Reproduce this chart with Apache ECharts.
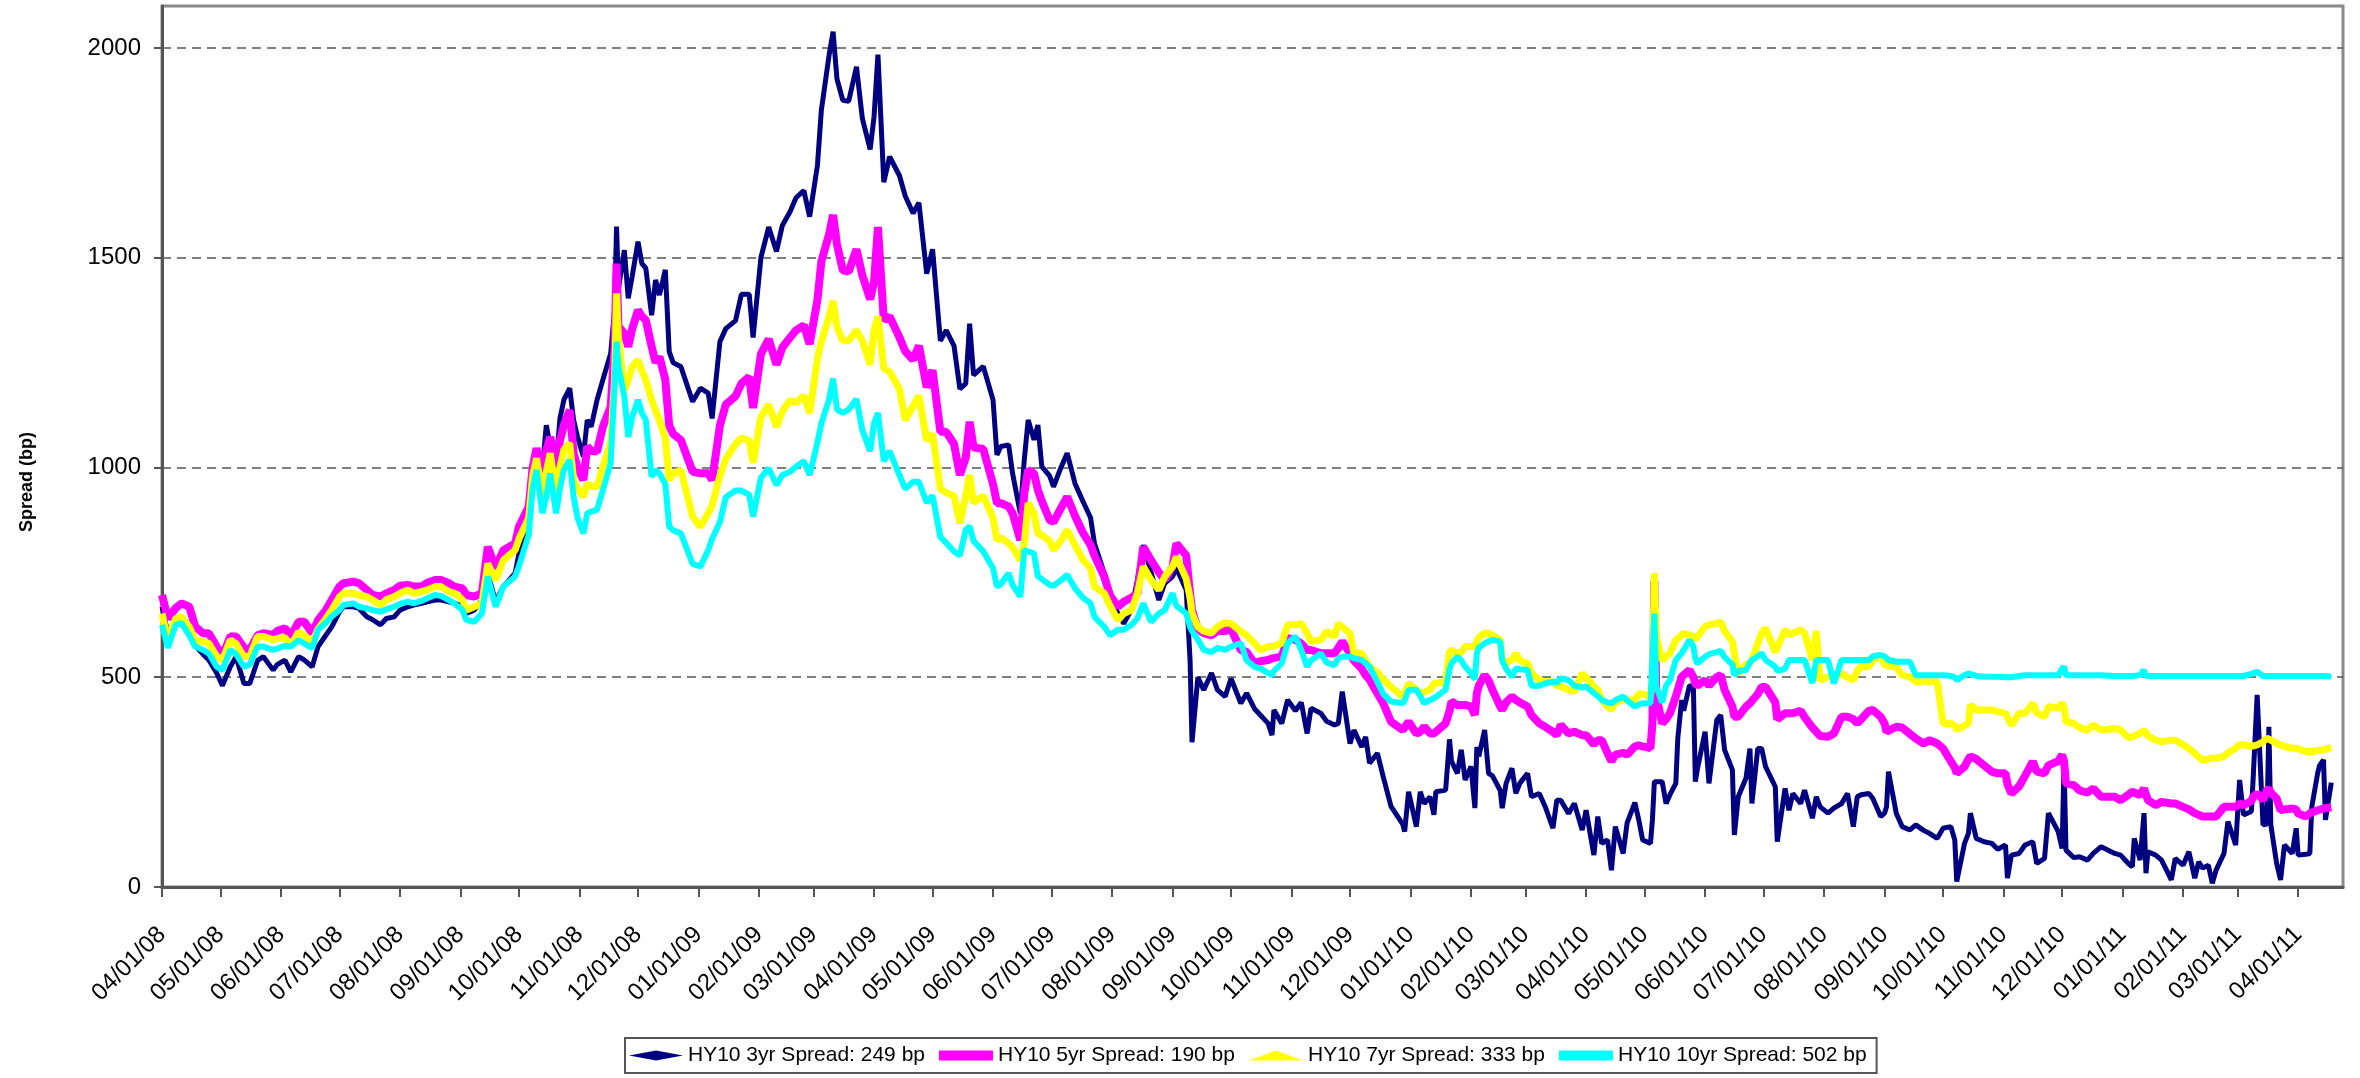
<!DOCTYPE html>
<html><head><meta charset="utf-8">
<script src="https://cdn.jsdelivr.net/npm/echarts@6/dist/echarts.min.js"></script>
<style>html,body{margin:0;padding:0;background:#fff}#chart{width:2360px;height:1078px}</style>
</head><body><div id="chart"></div>
<script>
const axisStart = '2008-04-01';
const axisEnd = '2011-04-24';
const yTicks = [0, 500, 1000, 1500, 2000];
const seriesNames = ['HY10 3yr Spread: 249 bp', 'HY10 5yr Spread: 190 bp', 'HY10 7yr Spread: 333 bp', 'HY10 10yr Spread: 502 bp'];
const seriesColors = ['#000080', '#FF00FF', '#FFFF00', '#00FFFF'];

const dates = [
'2008-04-01','2008-04-04','2008-04-08','2008-04-11','2008-04-15','2008-04-18','2008-04-22','2008-04-25','2008-04-29',
'2008-05-02','2008-05-06','2008-05-09','2008-05-13','2008-05-16','2008-05-20','2008-05-23','2008-05-28','2008-05-30',
'2008-06-03','2008-06-06','2008-06-10','2008-06-13','2008-06-17','2008-06-20','2008-06-24','2008-06-27',
'2008-07-01','2008-07-03','2008-07-08','2008-07-11','2008-07-15','2008-07-18','2008-07-22','2008-07-25','2008-07-29',
'2008-08-01','2008-08-05','2008-08-08','2008-08-12','2008-08-15','2008-08-19','2008-08-22','2008-08-26','2008-08-29',
'2008-09-02','2008-09-04','2008-09-08','2008-09-12','2008-09-15','2008-09-19','2008-09-23','2008-09-29',
'2008-10-01','2008-10-06','2008-10-08','2008-10-10','2008-10-13','2008-10-15','2008-10-17','2008-10-20','2008-10-22','2008-10-24','2008-10-27','2008-10-29','2008-10-31',
'2008-11-03','2008-11-05','2008-11-07','2008-11-10','2008-11-13','2008-11-17','2008-11-19','2008-11-20','2008-11-21','2008-11-24','2008-11-26','2008-11-28',
'2008-12-01','2008-12-03','2008-12-05','2008-12-08','2008-12-10','2008-12-12','2008-12-15','2008-12-17','2008-12-19','2008-12-23','2008-12-29',
'2009-01-02','2009-01-06','2009-01-08','2009-01-12','2009-01-15','2009-01-20','2009-01-23','2009-01-27','2009-01-29',
'2009-02-02','2009-02-06','2009-02-10','2009-02-13','2009-02-17','2009-02-20','2009-02-24','2009-02-27',
'2009-03-03','2009-03-05','2009-03-09','2009-03-11','2009-03-13','2009-03-16','2009-03-19','2009-03-23','2009-03-26','2009-03-30',
'2009-04-01','2009-04-03','2009-04-06','2009-04-09','2009-04-14','2009-04-17','2009-04-21','2009-04-24','2009-04-28',
'2009-05-01','2009-05-05','2009-05-08','2009-05-12','2009-05-15','2009-05-18','2009-05-20','2009-05-22','2009-05-27',
'2009-06-01','2009-06-03','2009-06-05','2009-06-09','2009-06-11','2009-06-15','2009-06-17','2009-06-19','2009-06-22','2009-06-24','2009-06-26','2009-06-30',
'2009-07-02','2009-07-06','2009-07-09','2009-07-13','2009-07-17','2009-07-21','2009-07-23','2009-07-28','2009-07-31',
'2009-08-04','2009-08-07','2009-08-11','2009-08-14','2009-08-17','2009-08-21','2009-08-25','2009-08-28',
'2009-09-01','2009-09-03','2009-09-08','2009-09-10','2009-09-11','2009-09-14','2009-09-17','2009-09-21','2009-09-24','2009-09-28',
'2009-10-01','2009-10-06','2009-10-09','2009-10-13','2009-10-16','2009-10-20','2009-10-22','2009-10-23','2009-10-27','2009-10-30',
'2009-11-03','2009-11-06','2009-11-09','2009-11-11','2009-11-16','2009-11-19','2009-11-23','2009-11-25','2009-11-27',
'2009-12-01','2009-12-03','2009-12-07','2009-12-09','2009-12-11','2009-12-15','2009-12-18','2009-12-22','2009-12-28','2009-12-29','2009-12-31',
'2010-01-04','2010-01-06','2010-01-08','2010-01-11','2010-01-13','2010-01-14','2010-01-19','2010-01-21','2010-01-22','2010-01-25','2010-01-27','2010-01-29',
'2010-02-01','2010-02-03','2010-02-04','2010-02-05','2010-02-08','2010-02-10','2010-02-12','2010-02-16','2010-02-17','2010-02-19','2010-02-22','2010-02-24','2010-02-26',
'2010-03-02','2010-03-04','2010-03-08','2010-03-11','2010-03-15','2010-03-17','2010-03-19','2010-03-23','2010-03-26','2010-03-30',
'2010-04-01','2010-04-05','2010-04-07','2010-04-09','2010-04-12','2010-04-14','2010-04-16','2010-04-20','2010-04-22','2010-04-26','2010-04-28','2010-04-30',
'2010-05-04','2010-05-05','2010-05-06','2010-05-07','2010-05-10','2010-05-12','2010-05-14','2010-05-17','2010-05-18','2010-05-20','2010-05-21','2010-05-24','2010-05-26','2010-05-27','2010-05-28',
'2010-06-01','2010-06-03','2010-06-07','2010-06-09','2010-06-11','2010-06-15','2010-06-16','2010-06-18','2010-06-22','2010-06-24','2010-06-25','2010-06-28','2010-06-30',
'2010-07-02','2010-07-07','2010-07-08','2010-07-12','2010-07-14','2010-07-16','2010-07-20','2010-07-22','2010-07-26','2010-07-28','2010-07-30',
'2010-08-03','2010-08-06','2010-08-10','2010-08-13','2010-08-16','2010-08-18','2010-08-20','2010-08-24','2010-08-26','2010-08-30',
'2010-09-01','2010-09-02','2010-09-03','2010-09-07','2010-09-10','2010-09-14','2010-09-17','2010-09-21','2010-09-24','2010-09-28',
'2010-10-01','2010-10-05','2010-10-07','2010-10-08','2010-10-12','2010-10-14','2010-10-15','2010-10-18','2010-10-22','2010-10-26','2010-10-29',
'2010-11-02','2010-11-03','2010-11-05','2010-11-09','2010-11-12','2010-11-16','2010-11-18','2010-11-22','2010-11-24','2010-11-29',
'2010-12-01','2010-12-02','2010-12-03','2010-12-07','2010-12-10','2010-12-14','2010-12-17','2010-12-21','2010-12-28','2010-12-31',
'2011-01-04','2011-01-06','2011-01-07','2011-01-10','2011-01-12','2011-01-13','2011-01-14','2011-01-18','2011-01-21','2011-01-26','2011-01-28',
'2011-02-01','2011-02-04','2011-02-07','2011-02-09','2011-02-11','2011-02-14','2011-02-16','2011-02-18','2011-02-22','2011-02-24','2011-02-28',
'2011-03-02','2011-03-04','2011-03-08','2011-03-09','2011-03-11','2011-03-14','2011-03-16','2011-03-17','2011-03-18','2011-03-21','2011-03-23','2011-03-25','2011-03-29','2011-03-31',
'2011-04-01','2011-04-05','2011-04-07','2011-04-08','2011-04-11','2011-04-12','2011-04-14','2011-04-15','2011-04-18'
];

const spread3yr = [
668,605,629,629,610,575,555,541,510,
480,525,549,485,485,540,549,517,530,
541,513,549,541,525,573,600,620,
656,668,668,664,644,637,625,640,644,
660,668,672,676,680,684,684,680,676,
670,652,660,684,748,680,716,748,
795,851,1006,986,1000,1101,1050,1010,1117,1161,1189,1113,1073,
1026,1113,1097,1161,1209,1272,1375,1574,1427,1518,1403,1455,
1538,1486,1475,1363,1447,1411,1471,1276,1250,1240,1157,
1189,1177,1117,1300,1331,1350,1413,1413,1310,
1500,1573,1515,1577,1610,1643,1660,1598,
1721,1852,1984,2039,1926,1875,1873,1955,1832,1758,
1836,1984,1680,1741,1696,1647,1606,1631,1462,
1520,1302,1327,1290,1187,1200,1343,1220,1241,
1161,1030,1050,1054,986,891,1018,1113,1066,1101,1002,980,
954,1002,1034,962,920,880,819,748,690,
652,628,662,732,815,750,684,724,
740,760,708,541,345,500,470,510,470,454,
497,438,462,425,410,390,362,422,390,446,
420,440,366,426,414,395,386,390,466,
342,374,334,358,295,319,263,192,150,132,227,
144,227,199,215,172,227,231,352,300,271,327,255,
287,188,334,311,374,271,265,230,188,247,283,223,247,
271,215,223,192,140,207,207,175,199,136,
183,76,168,104,112,40,144,80,152,201,160,112,
104,160,251,251,251,199,220,247,354,446,420,480,478,251,280,
370,247,398,410,327,279,124,215,260,330,199,330,330,
287,239,108,235,183,223,199,231,164,215,191,
176,188,199,223,144,215,220,223,211,168,
176,191,275,176,144,136,148,135,128,116,
140,144,112,13,104,128,176,116,108,104,90,
100,21,76,80,100,108,56,68,176,132,
92,295,88,70,72,64,80,96,80,76,
56,48,116,64,176,33,84,76,64,17,68,
52,84,21,60,45,52,9,41,80,156,100,
255,172,180,263,458,148,150,382,148,56,17,100,80,140,
76,78,80,191,271,290,303,160,249
];

const spread5yr = [
696,640,665,676,668,621,605,605,573,
550,597,597,570,565,600,605,601,610,
617,597,632,632,605,636,660,684,
716,724,728,724,708,696,692,700,708,
718,720,716,716,725,732,732,724,716,
712,696,692,700,811,760,803,819,
859,907,1000,1046,978,1040,1073,1002,1065,1100,1137,1034,1000,
970,1050,1040,1038,1097,1145,1288,1486,1336,1320,1288,1330,
1375,1360,1351,1288,1250,1264,1209,1100,1080,1065,990,
986,986,970,1100,1150,1170,1200,1216,1142,
1270,1306,1245,1286,1310,1327,1339,1294,
1400,1491,1557,1602,1532,1470,1467,1520,1458,1401,
1442,1573,1351,1360,1310,1277,1257,1290,1191,
1232,1085,1085,1056,982,1023,1109,1048,1044,
960,915,915,907,891,827,938,994,986,946,920,875,
870,905,930,885,845,815,790,740,695,
668,680,690,700,811,779,750,732,
764,819,790,700,660,615,605,600,610,610,
615,565,560,533,538,541,545,549,549,593,
589,580,565,565,557,557,557,570,585,
557,540,520,505,494,462,438,394,374,376,394,
366,370,382,366,366,366,390,420,442,434,434,434,
430,410,462,480,505,493,470,430,422,440,454,446,440,
430,410,390,382,370,362,386,366,370,362,
362,340,350,350,319,300,315,320,315,335,338,335,
331,390,730,454,390,400,414,454,454,501,505,517,500,485,480,
493,480,501,505,470,430,406,406,430,438,438,460,477,
477,440,400,414,414,414,420,405,380,370,360,
358,366,406,406,400,390,400,420,422,406,
390,370,370,382,380,365,354,342,350,342,
330,299,285,271,287,305,311,305,290,275,271,
271,245,223,240,265,299,275,271,290,300,
315,300,247,243,230,225,235,215,215,207,
220,227,225,219,235,220,207,195,203,199,199,
191,185,176,172,168,168,168,168,191,191,191,
199,195,205,215,223,207,230,235,225,211,183,185,187,185,
175,168,176,178,183,185,187,187,190
];

const spread7yr = [
652,590,640,644,620,589,585,581,550,
541,589,580,549,550,597,597,589,592,
595,575,608,600,582,615,640,660,
692,700,700,696,692,684,672,685,692,
700,708,700,704,708,716,716,704,700,
685,660,668,676,771,732,779,803,
830,880,980,1022,930,990,1034,938,1000,1042,1058,970,950,
930,962,955,954,1002,1058,1209,1415,1304,1185,1209,1240,
1256,1230,1209,1161,1135,1113,1070,970,985,994,883,
859,891,910,980,1020,1056,1070,1064,1011,
1120,1150,1097,1134,1160,1154,1171,1130,
1260,1300,1360,1397,1335,1302,1302,1327,1302,1245,
1327,1360,1236,1228,1187,1113,1146,1171,1064,
1080,949,940,932,867,932,982,916,932,
880,827,833,819,810,779,819,915,891,843,838,825,
803,827,851,815,780,760,716,700,670,
636,652,660,700,764,732,708,740,
764,787,735,690,652,620,610,605,620,630,
628,609,600,581,565,573,573,573,581,625,
625,628,605,585,589,609,597,628,620,
605,557,557,540,525,512,495,477,454,460,485,
470,462,465,470,485,485,489,560,565,557,560,573,
573,573,585,595,605,605,600,589,540,535,541,557,540,
533,510,493,489,489,480,478,470,466,509,
500,478,470,446,430,422,440,446,446,446,460,460,
454,501,748,597,540,550,557,589,589,600,605,600,597,590,590,
621,625,629,631,610,585,557,509,530,535,541,580,605,
617,560,570,613,601,605,613,605,541,610,493,
501,501,509,500,493,515,525,525,540,549,
530,529,527,525,505,501,490,489,489,489,
390,390,385,374,385,390,434,422,422,422,418,
414,414,386,414,414,438,415,406,430,426,
438,430,394,390,380,374,386,374,378,374,
356,358,360,366,374,370,360,350,346,350,350,
339,330,319,310,303,305,307,307,311,320,331,
339,339,335,336,339,346,355,358,350,342,338,335,331,331,
328,323,323,323,325,327,327,328,333
];

const spread10yr = [
625,570,625,629,600,573,565,557,525,
517,565,555,525,530,573,573,565,568,
575,573,589,580,569,613,630,645,
660,672,676,668,664,660,656,662,668,
675,680,676,682,688,696,694,684,676,
660,637,632,652,740,668,716,740,
765,840,950,994,891,930,986,891,950,994,1018,930,880,
843,891,895,899,946,1010,1200,1300,1240,1169,1073,1120,
1161,1130,1113,978,994,986,960,859,850,843,770,
764,803,830,870,929,945,945,935,883,
975,998,958,982,990,1002,1015,982,
1060,1105,1163,1212,1138,1130,1138,1163,1089,1039,
1105,1130,1015,1039,982,949,966,966,916,
933,834,820,800,790,851,860,825,800,
760,716,722,748,720,692,803,800,795,740,734,720,
718,732,744,712,690,676,644,620,600,
613,613,625,640,676,632,652,660,
700,670,652,620,610,590,565,560,570,565,
573,581,540,525,521,510,505,515,533,581,
597,565,525,540,557,535,529,545,549,
549,545,541,533,525,489,460,442,438,445,470,
470,455,438,446,450,452,470,520,533,549,540,525,
510,495,557,570,581,585,589,585,540,520,501,521,519,
517,480,480,485,489,488,497,493,480,475,
478,462,455,446,440,438,445,454,445,430,435,438,
438,438,652,478,440,480,493,541,545,557,560,589,573,545,533,
549,555,560,563,548,530,505,515,517,535,541,550,557,
541,525,515,520,541,541,541,541,486,541,541,
541,485,541,541,541,541,541,541,550,553,
550,553,541,537,537,537,505,505,505,505,
505,503,500,493,505,509,505,503,501,501,501,
500,497,500,503,505,505,505,505,505,505,
520,525,505,505,505,505,505,505,503,503,
503,503,503,505,517,503,503,503,503,503,503,
503,503,503,503,503,503,503,503,503,503,503,
503,503,508,510,513,503,503,503,503,503,503,503,503,503,
503,503,503,503,503,503,503,503,502
];

const seriesValues = [spread3yr, spread5yr, spread7yr, spread10yr];
const lineWidths = [5, 8, 7, 6];
const legendSymbols = ['diamond', 'rect', 'triangle', 'rect'];
const FONT = '"Liberation Sans", Arial, sans-serif';

// daily category axis
const categories = [];
for (let t = Date.parse(axisStart + 'T00:00:00Z'); t <= Date.parse(axisEnd + 'T00:00:00Z'); t += 86400000) {
  categories.push(new Date(t).toISOString().slice(0, 10));
}
const catIndex = {};
categories.forEach((c, i) => { catIndex[c] = i; });
seriesValues.forEach((v, k) => { if (v.length !== dates.length) console.error('length mismatch', k, v.length, dates.length); });

const isMonthStart = (i, v) => v.slice(8) === '01';
const fmtDate = v => v.slice(5, 7) + '/' + v.slice(8, 10) + '/' + v.slice(2, 4);

const chart = echarts.init(document.getElementById('chart'), null, { renderer: 'canvas' });
chart.setOption({
  animation: false,
  backgroundColor: '#ffffff',
  grid: { left: 162, right: 17, top: 6, bottom: 191, show: true, borderColor: '#8a8a8a', borderWidth: 3, backgroundColor: 'transparent' },
  legend: {
    left: 625, top: 1038, orient: 'horizontal', itemGap: 14, itemWidth: 54, itemHeight: 10,
    padding: [7, 10, 7, 4], borderColor: '#555', borderWidth: 2, backgroundColor: '#fff',
    textStyle: { fontSize: 21, color: '#000', fontFamily: FONT },
    data: seriesNames.map((n, k) => ({ name: n, icon: legendSymbols[k] }))
  },
  xAxis: {
    type: 'category', data: categories, boundaryGap: false,
    axisLine: { show: true, lineStyle: { color: '#555', width: 3 } },
    axisTick: { show: true, interval: isMonthStart, length: 10, lineStyle: { color: '#555', width: 2 } },
    axisLabel: { interval: isMonthStart, rotate: 45, formatter: fmtDate, fontSize: 24, color: '#000', margin: 44, fontFamily: FONT },
    splitLine: { show: false }
  },
  yAxis: {
    type: 'value', min: 0, max: 2100, interval: 500,
    axisLine: { show: true, lineStyle: { color: '#555', width: 3 } },
    axisTick: { show: true, length: 8, lineStyle: { color: '#555', width: 2 }, customValues: yTicks },
    axisLabel: { fontSize: 24, color: '#000', margin: 21, fontFamily: FONT, customValues: yTicks, formatter: v => String(v) },
    splitLine: { show: true, lineStyle: { type: [9, 6], color: '#555', width: 1.5 } }
  },
  graphic: [{
    type: 'text', x: 27, y: 482, rotation: Math.PI / 2,
    style: { text: 'Spread (bp)', fontSize: 18, fontWeight: 'bold', fontFamily: FONT, fill: '#000', align: 'center', verticalAlign: 'middle' }
  }],
  series: seriesNames.map((name, k) => ({
    name: name, type: 'line', showSymbol: false, symbol: legendSymbols[k], symbolSize: 10,
    color: seriesColors[k],
    lineStyle: { color: seriesColors[k], width: lineWidths[k] },
    itemStyle: { color: seriesColors[k] },
    data: dates.map((d, i) => [catIndex[d], seriesValues[k][i]])
  }))
});
</script>
</body></html>
